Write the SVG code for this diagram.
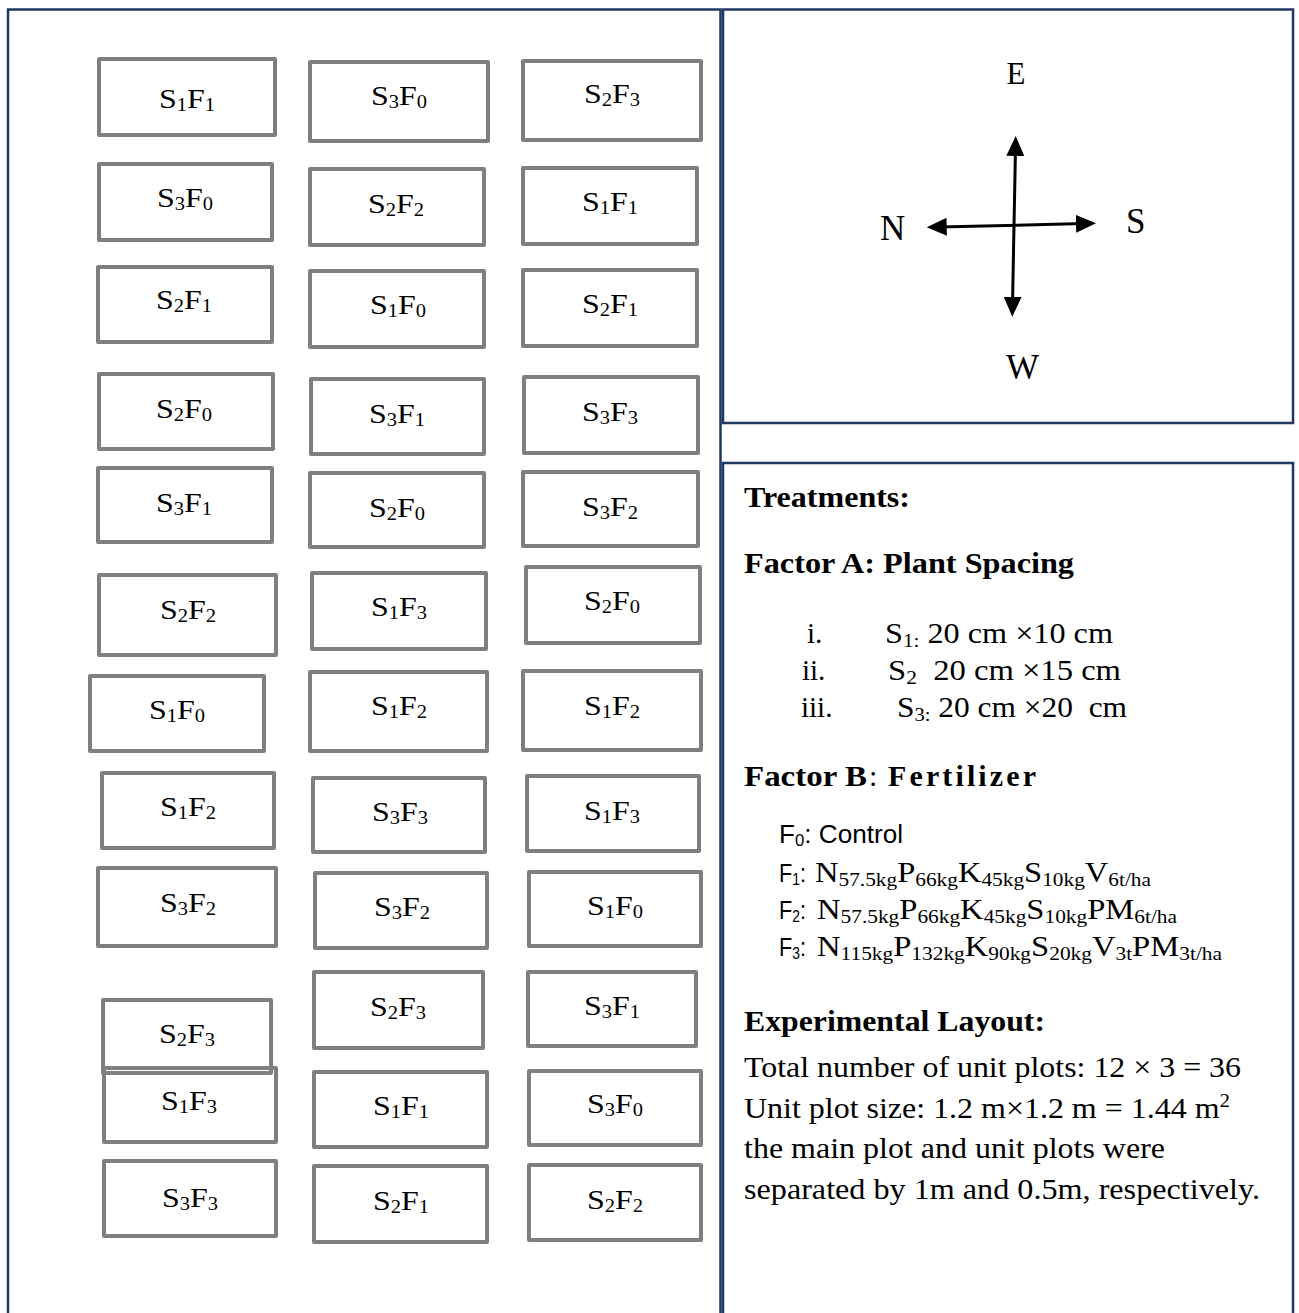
<svg xmlns="http://www.w3.org/2000/svg" width="1299" height="1313" viewBox="0 0 1299 1313">
<style>
.frame{fill:none;stroke:#1f3864;stroke-width:2.5}
.plot rect{fill:none;stroke:#7f7f7f;stroke-width:4;stroke-linejoin:round}
.lbl{font-family:"Liberation Serif","Times New Roman",serif;font-size:28px;fill:#000}
.sb{font-size:18px}
.ser{font-family:"Liberation Serif","Times New Roman",serif;font-size:29px;fill:#000}
.bold{font-weight:bold;font-size:30px}
.sub2{font-size:19px}
.sans{font-family:"Liberation Sans",Arial,sans-serif;font-size:25px;fill:#000}
.sans-sub{font-size:16px}
.dir{font-family:"Liberation Serif","Times New Roman",serif;font-size:35px;fill:#000}
.arrow{stroke:#000;stroke-width:3;fill:none;marker-start:url(#ah);marker-end:url(#ah)}
</style>
<defs>
<marker id="ah" viewBox="0 0 20 18" markerWidth="20" markerHeight="18" markerUnits="userSpaceOnUse" refX="8" refY="9" orient="auto-start-reverse">
<path d="M0,0 L20,9 L0,18 z" fill="#000"/>
</marker>
</defs>
<rect width="1299" height="1313" fill="#fff"/>

<g id="field-frame"><rect class="frame" x="8" y="9.5" width="712.5" height="1320"/></g>
<g id="compass-frame"><rect class="frame" x="723" y="9.5" width="570" height="413.5"/></g>
<g id="legend-frame"><rect class="frame" x="723" y="463" width="570" height="870"/></g>

<g id="plots">
<g id="r1c1" class="plot"><rect x="99" y="59" width="176" height="76"/><text class="lbl" x="159" y="108" textLength="56" lengthAdjust="spacingAndGlyphs">S<tspan class="sb" dy="3">1</tspan><tspan dy="-3">F</tspan><tspan class="sb" dy="3">1</tspan></text></g>
<g id="r1c2" class="plot"><rect x="310" y="62" width="178" height="79"/><text class="lbl" x="371" y="105" textLength="56" lengthAdjust="spacingAndGlyphs">S<tspan class="sb" dy="3">3</tspan><tspan dy="-3">F</tspan><tspan class="sb" dy="3">0</tspan></text></g>
<g id="r1c3" class="plot"><rect x="523" y="61" width="178" height="79"/><text class="lbl" x="584" y="103" textLength="56" lengthAdjust="spacingAndGlyphs">S<tspan class="sb" dy="3">2</tspan><tspan dy="-3">F</tspan><tspan class="sb" dy="3">3</tspan></text></g>

<g id="r2c1" class="plot"><rect x="99" y="164" width="173" height="76"/><text class="lbl" x="157" y="207" textLength="56" lengthAdjust="spacingAndGlyphs">S<tspan class="sb" dy="3">3</tspan><tspan dy="-3">F</tspan><tspan class="sb" dy="3">0</tspan></text></g>
<g id="r2c2" class="plot"><rect x="310" y="169" width="174" height="76"/><text class="lbl" x="368" y="213" textLength="56" lengthAdjust="spacingAndGlyphs">S<tspan class="sb" dy="3">2</tspan><tspan dy="-3">F</tspan><tspan class="sb" dy="3">2</tspan></text></g>
<g id="r2c3" class="plot"><rect x="523" y="168" width="174" height="76"/><text class="lbl" x="582" y="211" textLength="56" lengthAdjust="spacingAndGlyphs">S<tspan class="sb" dy="3">1</tspan><tspan dy="-3">F</tspan><tspan class="sb" dy="3">1</tspan></text></g>

<g id="r3c1" class="plot"><rect x="98" y="267" width="174" height="75"/><text class="lbl" x="156" y="309" textLength="56" lengthAdjust="spacingAndGlyphs">S<tspan class="sb" dy="3">2</tspan><tspan dy="-3">F</tspan><tspan class="sb" dy="3">1</tspan></text></g>
<g id="r3c2" class="plot"><rect x="310" y="271" width="174" height="76"/><text class="lbl" x="370" y="314" textLength="56" lengthAdjust="spacingAndGlyphs">S<tspan class="sb" dy="3">1</tspan><tspan dy="-3">F</tspan><tspan class="sb" dy="3">0</tspan></text></g>
<g id="r3c3" class="plot"><rect x="523" y="270" width="174" height="76"/><text class="lbl" x="582" y="313" textLength="56" lengthAdjust="spacingAndGlyphs">S<tspan class="sb" dy="3">2</tspan><tspan dy="-3">F</tspan><tspan class="sb" dy="3">1</tspan></text></g>

<g id="r4c1" class="plot"><rect x="99" y="374" width="174" height="75"/><text class="lbl" x="156" y="418" textLength="56" lengthAdjust="spacingAndGlyphs">S<tspan class="sb" dy="3">2</tspan><tspan dy="-3">F</tspan><tspan class="sb" dy="3">0</tspan></text></g>
<g id="r4c2" class="plot"><rect x="311" y="379" width="173" height="75"/><text class="lbl" x="369" y="423" textLength="56" lengthAdjust="spacingAndGlyphs">S<tspan class="sb" dy="3">3</tspan><tspan dy="-3">F</tspan><tspan class="sb" dy="3">1</tspan></text></g>
<g id="r4c3" class="plot"><rect x="524" y="377" width="174" height="76"/><text class="lbl" x="582" y="421" textLength="56" lengthAdjust="spacingAndGlyphs">S<tspan class="sb" dy="3">3</tspan><tspan dy="-3">F</tspan><tspan class="sb" dy="3">3</tspan></text></g>

<g id="r5c1" class="plot"><rect x="98" y="468" width="174" height="74"/><text class="lbl" x="156" y="512" textLength="56" lengthAdjust="spacingAndGlyphs">S<tspan class="sb" dy="3">3</tspan><tspan dy="-3">F</tspan><tspan class="sb" dy="3">1</tspan></text></g>
<g id="r5c2" class="plot"><rect x="310" y="473" width="174" height="74"/><text class="lbl" x="369" y="517" textLength="56" lengthAdjust="spacingAndGlyphs">S<tspan class="sb" dy="3">2</tspan><tspan dy="-3">F</tspan><tspan class="sb" dy="3">0</tspan></text></g>
<g id="r5c3" class="plot"><rect x="523" y="472" width="175" height="74"/><text class="lbl" x="582" y="516" textLength="56" lengthAdjust="spacingAndGlyphs">S<tspan class="sb" dy="3">3</tspan><tspan dy="-3">F</tspan><tspan class="sb" dy="3">2</tspan></text></g>

<g id="r6c1" class="plot"><rect x="99" y="575" width="177" height="80"/><text class="lbl" x="160" y="619" textLength="56" lengthAdjust="spacingAndGlyphs">S<tspan class="sb" dy="3">2</tspan><tspan dy="-3">F</tspan><tspan class="sb" dy="3">2</tspan></text></g>
<g id="r6c2" class="plot"><rect x="312" y="573" width="174" height="76"/><text class="lbl" x="371" y="616" textLength="56" lengthAdjust="spacingAndGlyphs">S<tspan class="sb" dy="3">1</tspan><tspan dy="-3">F</tspan><tspan class="sb" dy="3">3</tspan></text></g>
<g id="r6c3" class="plot"><rect x="526" y="567" width="174" height="76"/><text class="lbl" x="584" y="610" textLength="56" lengthAdjust="spacingAndGlyphs">S<tspan class="sb" dy="3">2</tspan><tspan dy="-3">F</tspan><tspan class="sb" dy="3">0</tspan></text></g>

<g id="r7c1" class="plot"><rect x="90" y="676" width="174" height="75"/><text class="lbl" x="149" y="719" textLength="56" lengthAdjust="spacingAndGlyphs">S<tspan class="sb" dy="3">1</tspan><tspan dy="-3">F</tspan><tspan class="sb" dy="3">0</tspan></text></g>
<g id="r7c2" class="plot"><rect x="310" y="672" width="177" height="79"/><text class="lbl" x="371" y="715" textLength="56" lengthAdjust="spacingAndGlyphs">S<tspan class="sb" dy="3">1</tspan><tspan dy="-3">F</tspan><tspan class="sb" dy="3">2</tspan></text></g>
<g id="r7c3" class="plot"><rect x="523" y="671" width="178" height="79"/><text class="lbl" x="584" y="715" textLength="56" lengthAdjust="spacingAndGlyphs">S<tspan class="sb" dy="3">1</tspan><tspan dy="-3">F</tspan><tspan class="sb" dy="3">2</tspan></text></g>

<g id="r8c1" class="plot"><rect x="102" y="773" width="172" height="75"/><text class="lbl" x="160" y="816" textLength="56" lengthAdjust="spacingAndGlyphs">S<tspan class="sb" dy="3">1</tspan><tspan dy="-3">F</tspan><tspan class="sb" dy="3">2</tspan></text></g>
<g id="r8c2" class="plot"><rect x="313" y="778" width="172" height="74"/><text class="lbl" x="372" y="821" textLength="56" lengthAdjust="spacingAndGlyphs">S<tspan class="sb" dy="3">3</tspan><tspan dy="-3">F</tspan><tspan class="sb" dy="3">3</tspan></text></g>
<g id="r8c3" class="plot"><rect x="527" y="776" width="172" height="75"/><text class="lbl" x="584" y="820" textLength="56" lengthAdjust="spacingAndGlyphs">S<tspan class="sb" dy="3">1</tspan><tspan dy="-3">F</tspan><tspan class="sb" dy="3">3</tspan></text></g>

<g id="r9c1" class="plot"><rect x="98" y="868" width="178" height="78"/><text class="lbl" x="160" y="912" textLength="56" lengthAdjust="spacingAndGlyphs">S<tspan class="sb" dy="3">3</tspan><tspan dy="-3">F</tspan><tspan class="sb" dy="3">2</tspan></text></g>
<g id="r9c2" class="plot"><rect x="315" y="873" width="172" height="75"/><text class="lbl" x="374" y="916" textLength="56" lengthAdjust="spacingAndGlyphs">S<tspan class="sb" dy="3">3</tspan><tspan dy="-3">F</tspan><tspan class="sb" dy="3">2</tspan></text></g>
<g id="r9c3" class="plot"><rect x="529" y="872" width="172" height="74"/><text class="lbl" x="587" y="915" textLength="56" lengthAdjust="spacingAndGlyphs">S<tspan class="sb" dy="3">1</tspan><tspan dy="-3">F</tspan><tspan class="sb" dy="3">0</tspan></text></g>

<g id="r10c1" class="plot"><rect x="103" y="1000" width="168" height="73"/><text class="lbl" x="159" y="1043" textLength="56" lengthAdjust="spacingAndGlyphs">S<tspan class="sb" dy="3">2</tspan><tspan dy="-3">F</tspan><tspan class="sb" dy="3">3</tspan></text></g>
<g id="r10c2" class="plot"><rect x="314" y="972" width="169" height="76"/><text class="lbl" x="370" y="1016" textLength="56" lengthAdjust="spacingAndGlyphs">S<tspan class="sb" dy="3">2</tspan><tspan dy="-3">F</tspan><tspan class="sb" dy="3">3</tspan></text></g>
<g id="r10c3" class="plot"><rect x="528" y="972" width="168" height="74"/><text class="lbl" x="584" y="1015" textLength="56" lengthAdjust="spacingAndGlyphs">S<tspan class="sb" dy="3">3</tspan><tspan dy="-3">F</tspan><tspan class="sb" dy="3">1</tspan></text></g>

<g id="r11c1" class="plot"><rect x="104" y="1068" width="172" height="74"/><text class="lbl" x="161" y="1110" textLength="56" lengthAdjust="spacingAndGlyphs">S<tspan class="sb" dy="3">1</tspan><tspan dy="-3">F</tspan><tspan class="sb" dy="3">3</tspan></text></g>
<g id="r11c2" class="plot"><rect x="314" y="1072" width="173" height="75"/><text class="lbl" x="373" y="1115" textLength="56" lengthAdjust="spacingAndGlyphs">S<tspan class="sb" dy="3">1</tspan><tspan dy="-3">F</tspan><tspan class="sb" dy="3">1</tspan></text></g>
<g id="r11c3" class="plot"><rect x="529" y="1071" width="172" height="74"/><text class="lbl" x="587" y="1113" textLength="56" lengthAdjust="spacingAndGlyphs">S<tspan class="sb" dy="3">3</tspan><tspan dy="-3">F</tspan><tspan class="sb" dy="3">0</tspan></text></g>

<g id="r12c1" class="plot"><rect x="104" y="1161" width="172" height="75"/><text class="lbl" x="162" y="1207" textLength="56" lengthAdjust="spacingAndGlyphs">S<tspan class="sb" dy="3">3</tspan><tspan dy="-3">F</tspan><tspan class="sb" dy="3">3</tspan></text></g>
<g id="r12c2" class="plot"><rect x="314" y="1166" width="173" height="76"/><text class="lbl" x="373" y="1210" textLength="56" lengthAdjust="spacingAndGlyphs">S<tspan class="sb" dy="3">2</tspan><tspan dy="-3">F</tspan><tspan class="sb" dy="3">1</tspan></text></g>
<g id="r12c3" class="plot"><rect x="529" y="1165" width="172" height="75"/><text class="lbl" x="587" y="1209" textLength="56" lengthAdjust="spacingAndGlyphs">S<tspan class="sb" dy="3">2</tspan><tspan dy="-3">F</tspan><tspan class="sb" dy="3">2</tspan></text></g>
</g>

<g id="compass">
<g id="dir-E"><text class="dir" x="1016" y="84" text-anchor="middle" style="font-size:31px">E</text></g>
<g id="dir-N"><text class="dir" x="880" y="240">N</text></g>
<g id="dir-S"><text class="dir" x="1126" y="233">S</text></g>
<g id="dir-W"><text class="dir" x="1006" y="379">W</text></g>
</g>

<g id="connectors">
<line class="arrow" x1="1015.5" y1="148" x2="1012.5" y2="304.7"/>
<line class="arrow" x1="938.7" y1="227" x2="1084" y2="223.6"/>
</g>

<g id="legend">
<text class="ser bold" x="744" y="507" textLength="166" lengthAdjust="spacingAndGlyphs">Treatments:</text>
<text class="ser bold" x="744" y="573" textLength="330" lengthAdjust="spacingAndGlyphs">Factor A: Plant Spacing</text>

<text class="ser" x="807" y="643">i.</text>
<text class="ser" x="885" y="643" textLength="228" lengthAdjust="spacingAndGlyphs" xml:space="preserve">S<tspan class="sub2" dy="4">1:</tspan><tspan dy="-4"> 20 cm ×10 cm</tspan></text>
<text class="ser" x="802" y="680">ii.</text>
<text class="ser" x="888" y="680" textLength="233" lengthAdjust="spacingAndGlyphs" xml:space="preserve">S<tspan class="sub2" dy="4">2</tspan><tspan dy="-4">  20 cm ×15 cm</tspan></text>
<text class="ser" x="801" y="717">iii.</text>
<text class="ser" x="897" y="717" textLength="230" lengthAdjust="spacingAndGlyphs" xml:space="preserve">S<tspan class="sub2" dy="4">3:</tspan><tspan dy="-4"> 20 cm ×20  cm</tspan></text>

<text class="ser bold" x="744" y="786" textLength="123" lengthAdjust="spacingAndGlyphs">Factor B</text>
<text class="ser" x="869" y="786" style="font-size:30px">:</text>
<text class="ser bold" x="888" y="786" textLength="148" lengthAdjust="spacing">Fertilizer</text>

<text class="sans" x="779" y="843" textLength="124" lengthAdjust="spacingAndGlyphs">F<tspan class="sans-sub" dy="3">0</tspan><tspan dy="-3">: Control</tspan></text>

<text class="sans" x="779" y="882" textLength="27" lengthAdjust="spacingAndGlyphs">F<tspan class="sans-sub" dy="3">1</tspan><tspan dy="-3">:</tspan></text>
<text class="ser" x="815" y="882" textLength="336" lengthAdjust="spacingAndGlyphs">N<tspan class="sub2" dy="4">57.5kg</tspan><tspan dy="-4">P</tspan><tspan class="sub2" dy="4">66kg</tspan><tspan dy="-4">K</tspan><tspan class="sub2" dy="4">45kg</tspan><tspan dy="-4">S</tspan><tspan class="sub2" dy="4">10kg</tspan><tspan dy="-4">V</tspan><tspan class="sub2" dy="4">6t/ha</tspan></text>

<text class="sans" x="779" y="919" textLength="27" lengthAdjust="spacingAndGlyphs">F<tspan class="sans-sub" dy="3">2</tspan><tspan dy="-3">:</tspan></text>
<text class="ser" x="817" y="919" textLength="360" lengthAdjust="spacingAndGlyphs">N<tspan class="sub2" dy="4">57.5kg</tspan><tspan dy="-4">P</tspan><tspan class="sub2" dy="4">66kg</tspan><tspan dy="-4">K</tspan><tspan class="sub2" dy="4">45kg</tspan><tspan dy="-4">S</tspan><tspan class="sub2" dy="4">10kg</tspan><tspan dy="-4">PM</tspan><tspan class="sub2" dy="4">6t/ha</tspan></text>

<text class="sans" x="779" y="956" textLength="27" lengthAdjust="spacingAndGlyphs">F<tspan class="sans-sub" dy="3">3</tspan><tspan dy="-3">:</tspan></text>
<text class="ser" x="817" y="956" textLength="405" lengthAdjust="spacingAndGlyphs">N<tspan class="sub2" dy="4">115kg</tspan><tspan dy="-4">P</tspan><tspan class="sub2" dy="4">132kg</tspan><tspan dy="-4">K</tspan><tspan class="sub2" dy="4">90kg</tspan><tspan dy="-4">S</tspan><tspan class="sub2" dy="4">20kg</tspan><tspan dy="-4">V</tspan><tspan class="sub2" dy="4">3t</tspan><tspan dy="-4">PM</tspan><tspan class="sub2" dy="4">3t/ha</tspan></text>

<text class="ser bold" x="744" y="1031" textLength="301" lengthAdjust="spacingAndGlyphs">Experimental Layout:</text>
<text class="ser" x="744" y="1077" textLength="497" lengthAdjust="spacingAndGlyphs">Total number of unit plots: 12 × 3 = 36</text>
<text class="ser" x="744" y="1118" textLength="486" lengthAdjust="spacingAndGlyphs">Unit plot size: 1.2 m×1.2 m = 1.44 m<tspan class="sub2" dy="-11">2</tspan></text>
<text class="ser" x="744" y="1158" textLength="421" lengthAdjust="spacingAndGlyphs">the main plot and unit plots were</text>
<text class="ser" x="744" y="1199" textLength="516" lengthAdjust="spacingAndGlyphs">separated by 1m and 0.5m, respectively.</text>
</g>
</svg>
